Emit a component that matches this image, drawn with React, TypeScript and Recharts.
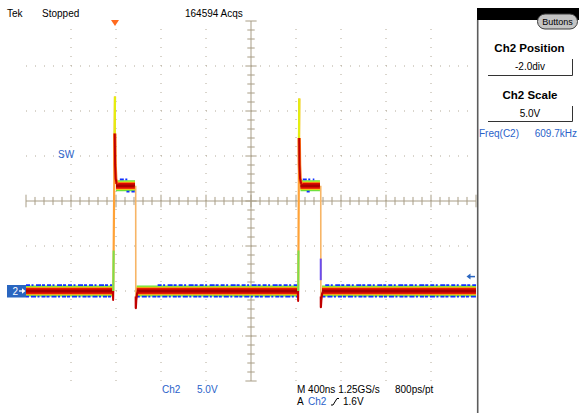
import React from 'react';
import { LineChart, Line, XAxis, YAxis, ReferenceLine } from 'recharts';

// ---------- screen scales (time in ns from screen left edge, volts) ----------
const T_DOMAIN: [number, number] = [0, 4000];
const V_DOMAIN: [number, number] = [-10, 30];
const GRID_TIMES = [400, 800, 1200, 1600, 2400, 2800, 3200, 3600];
const GRID_VOLTS = [-5, 0, 5, 15, 20, 25];
const CENTER_TIME = 2000;
const CENTER_VOLT = 10;
const MINOR_TIMES = Array.from({ length: 51 }, (_, i) => i * 80);
const MAJOR_TIMES = [0, 400, 800, 1200, 1600, 2000, 2400, 2800, 3200, 3600, 4000];
const MINOR_VOLTS = Array.from({ length: 41 }, (_, i) => -10 + i);
const MAJOR_VOLTS = [-10, -5, 0, 5, 10, 15, 20, 25, 30];

// ---------- waveform (Ch2, SW node) ----------
const bandTrace = [
  { t: 0, v: 0 }, { t: 771, v: 0 }, { t: 772, v: null },
  { t: 800, v: 11.7 }, { t: 969, v: 11.7 }, { t: 970, v: null },
  { t: 982, v: 0 }, { t: 2417, v: 0 }, { t: 2418, v: null },
  { t: 2440, v: 11.7 }, { t: 2613, v: 11.7 }, { t: 2614, v: null },
  { t: 2631, v: 0 }, { t: 4000, v: 0 },
];
const blueUpper = [
  { t: 0, v: 0.65 }, { t: 768, v: 0.65 }, { t: 769, v: null },
  { t: 834, v: 12.4 }, { t: 922, v: 12.4 }, { t: 923, v: null },
  { t: 1170, v: 0.65 }, { t: 2414, v: 0.65 }, { t: 2415, v: null },
  { t: 2460, v: 12.4 }, { t: 2563, v: 12.4 }, { t: 2564, v: null },
  { t: 2660, v: 0.65 }, { t: 4000, v: 0.65 },
];
const blueLower = [
  { t: 0, v: -0.62 }, { t: 768, v: -0.62 }, { t: 769, v: null },
  { t: 893, v: 11.05 }, { t: 967, v: 11.05 }, { t: 968, v: null },
  { t: 985, v: -0.62 }, { t: 2414, v: -0.62 }, { t: 2415, v: null },
  { t: 2495, v: 11.05 }, { t: 2524, v: 11.05 }, { t: 2525, v: null },
  { t: 2635, v: -0.62 }, { t: 4000, v: -0.62 },
];
const riseEdge = [
  { t: 776, v: 0 }, { t: 791, v: 21.6 }, { t: 792, v: null },
  { t: 2420, v: 0 }, { t: 2429, v: 21.4 },
];
const riseTop = [
  { t: 788, v: 17 }, { t: 791, v: 21.6 }, { t: 792, v: null },
  { t: 2426.5, v: 17 }, { t: 2429, v: 21.4 },
];
const riseBottom = [
  { t: 776, v: 0 }, { t: 779, v: 4.5 }, { t: 780, v: null },
  { t: 2420, v: 0 }, { t: 2422, v: 4.5 },
];
const preDip = [
  { t: 771, v: 0 }, { t: 774.5, v: -1 }, { t: 776, v: 0 }, { t: 777, v: null },
  { t: 2416, v: 0 }, { t: 2419, v: -1.1 }, { t: 2420, v: 0 },
];
const ringDecay = [
  { t: 789, v: 17.5 }, { t: 792, v: 14 }, { t: 797, v: 12.5 }, { t: 806, v: 11.9 },
  { t: 807, v: null },
  { t: 2428, v: 17 }, { t: 2431, v: 14 }, { t: 2436, v: 12.5 }, { t: 2446, v: 11.9 },
];
const fallEdge = [
  { t: 975, v: 11.7 }, { t: 976, v: -1.9 }, { t: 977, v: null },
  { t: 2620, v: 11.7 }, { t: 2621, v: -1.8 },
];
const undershoot = [
  { t: 975.5, v: -0.6 }, { t: 976, v: -1.9 }, { t: 980, v: -1.0 }, { t: 987, v: -0.3 }, { t: 997, v: 0 },
  { t: 998, v: null },
  { t: 2620.5, v: -0.6 }, { t: 2621, v: -1.8 }, { t: 2625, v: -1.0 }, { t: 2632, v: -0.3 }, { t: 2642, v: 0 },
];
const fallBlue = [
  { t: 2620, v: 1.2 }, { t: 2620, v: 3.6 },
];

// ---------- screen texts ----------
const HEADER = { brand: 'Tek', state: 'Stopped', acqs: '164594 Acqs' };
const CH_LABEL = 'SW';
const MENU = { posTitle: 'Ch2 Position', posValue: '-2.0div', scaleTitle: 'Ch2 Scale', scaleValue: '5.0V', button: 'Buttons' };
const MEAS = { name: 'Freq(C2)', value: '609.7kHz' };
const FOOTER = { ch: 'Ch2', scale: '5.0V', timebase: 'M 400ns 1.25GS/s', res: '800ps/pt', trigA: 'A', trigCh: 'Ch2', trigLevel: '1.6V' };

const GRAT = '#a89d86';
const DOT = '#b3aa98';
const BLUE_TXT = '#2a62c9';
const FONT = '"Liberation Sans", Arial, sans-serif';

const common = {
  xAxisId: 'xb',
  yAxisId: 'yl',
  dataKey: 'v',
  type: 'linear' as const,
  dot: false,
  activeDot: false,
  isAnimationActive: false,
  connectNulls: false,
  strokeLinecap: 'butt' as const,
  strokeLinejoin: 'round' as const,
};

export default function App() {
  return (
    <div style={{ position: 'absolute', left: 0, top: 0, width: 579, height: 413, background: '#fff', fontFamily: FONT }}>
      <LineChart width={579} height={413} margin={{ top: 21, right: 103, bottom: 32, left: 26 }}>
        <XAxis xAxisId="xb" dataKey="t" type="number" domain={T_DOMAIN} allowDataOverflow orientation="bottom" mirror height={0}
          ticks={MINOR_TIMES} interval={0} tick={false} tickSize={4} tickLine={{ stroke: GRAT }} axisLine={{ stroke: GRAT, strokeWidth: 1.5 }} />
        <XAxis xAxisId="xbm" dataKey="t" type="number" domain={T_DOMAIN} allowDataOverflow orientation="bottom" mirror height={0}
          ticks={MAJOR_TIMES} interval={0} tick={false} tickSize={8} tickLine={{ stroke: GRAT }} axisLine={false} />
        <XAxis xAxisId="xt" dataKey="t" type="number" domain={T_DOMAIN} allowDataOverflow orientation="top" mirror height={0}
          ticks={MINOR_TIMES} interval={0} tick={false} tickSize={4} tickLine={{ stroke: GRAT }} axisLine={{ stroke: GRAT, strokeWidth: 1.5 }} />
        <XAxis xAxisId="xtm" dataKey="t" type="number" domain={T_DOMAIN} allowDataOverflow orientation="top" mirror height={0}
          ticks={MAJOR_TIMES} interval={0} tick={false} tickSize={6} tickLine={{ stroke: GRAT }} axisLine={false} />
        <YAxis yAxisId="yl" type="number" domain={V_DOMAIN} allowDataOverflow orientation="left" mirror width={0}
          ticks={MINOR_VOLTS} interval={0} tick={false} tickSize={4} tickLine={{ stroke: GRAT }} axisLine={{ stroke: GRAT, strokeWidth: 1.5 }} />
        <YAxis yAxisId="yr" type="number" domain={V_DOMAIN} allowDataOverflow orientation="right" mirror width={0}
          ticks={MINOR_VOLTS} interval={0} tick={false} tickSize={4} tickLine={{ stroke: GRAT }} axisLine={{ stroke: GRAT, strokeWidth: 1.5 }} />
        <YAxis yAxisId="yrm" type="number" domain={V_DOMAIN} allowDataOverflow orientation="right" mirror width={0}
          ticks={MAJOR_VOLTS} interval={0} tick={false} tickSize={8} tickLine={{ stroke: GRAT }} axisLine={false} />

        {GRID_TIMES.map((t) => (
          <ReferenceLine key={'gt' + t} xAxisId="xb" yAxisId="yl" x={t} stroke={DOT} strokeDasharray="1 8" />
        ))}
        {GRID_VOLTS.map((v) => (
          <ReferenceLine key={'gv' + v} xAxisId="xb" yAxisId="yl" y={v} stroke={DOT} strokeDasharray="1 8" />
        ))}
        <ReferenceLine xAxisId="xb" yAxisId="yl" x={CENTER_TIME} stroke={GRAT} />
        <ReferenceLine xAxisId="xb" yAxisId="yl" y={CENTER_VOLT} stroke={GRAT} />
        {MINOR_TIMES.map((t) => {
          const h = MAJOR_TIMES.includes(t) ? 0.7 : 0.45;
          return (
            <ReferenceLine key={'ct' + t} xAxisId="xb" yAxisId="yl" stroke={GRAT}
              segment={[{ x: t, y: CENTER_VOLT - h }, { x: t, y: CENTER_VOLT + h }]} />
          );
        })}
        {MINOR_VOLTS.map((v) => {
          const w = MAJOR_VOLTS.includes(v) ? 50 : 33;
          return (
            <ReferenceLine key={'cv' + v} xAxisId="xb" yAxisId="yl" stroke={GRAT}
              segment={[{ x: CENTER_TIME - w, y: v }, { x: CENTER_TIME + w, y: v }]} />
          );
        })}

        {/* persistence band of the trace */}
        <Line {...common} data={bandTrace} stroke="#6fe23c" strokeWidth={11} />
        <Line {...common} data={bandTrace} stroke="#e6ee1c" strokeWidth={8.5} />
        <Line {...common} data={bandTrace} stroke="#ff5a12" strokeWidth={7} />
        <Line {...common} data={bandTrace} stroke="#dc0a00" strokeWidth={5.5} />
        <Line {...common} data={bandTrace} stroke="#a80000" strokeWidth={2.5} />
        <Line {...common} data={blueUpper} stroke="#1030ff" strokeWidth={1.8} strokeDasharray="4 1.5 2 2.5 5 1 3 2" />
        <Line {...common} data={blueLower} stroke="#1030ff" strokeWidth={1.8} strokeDasharray="3 2 5 1.5 2 2 4 1" />

        {/* edges */}
        <Line {...common} data={riseEdge} stroke="#ffa236" strokeWidth={2.2} />
        <Line {...common} data={riseTop} stroke="#e4ee10" strokeWidth={2.2} />
        <Line {...common} data={riseBottom} stroke="#7ae04a" strokeWidth={2} />
        <Line {...common} data={preDip} stroke="#c80000" strokeWidth={2} />
        <Line {...common} data={ringDecay} stroke="#ff7a1a" strokeWidth={3.5} />
        <Line {...common} data={ringDecay} stroke="#c00000" strokeWidth={2} />
        <Line {...common} data={fallEdge} stroke="#f7b566" strokeWidth={1.6} />
        <Line {...common} data={undershoot} stroke="#c00000" strokeWidth={2.2} />
        <Line {...common} data={fallBlue} stroke="#6a4cf0" strokeWidth={2} />
      </LineChart>

      <svg width={579} height={413} style={{ position: 'absolute', left: 0, top: 0, pointerEvents: 'none' }} fontFamily={FONT}>
        {/* header */}
        <text x={7} y={17} fontSize={10} fill="#000">{HEADER.brand}</text>
        <text x={42} y={17} fontSize={10} fill="#000">{HEADER.state}</text>
        <text x={185} y={17} fontSize={10} fill="#000">{HEADER.acqs}</text>
        {/* trigger position marker */}
        <polygon points="111,20 119,20 115,26" fill="#ff6a1e" />

        {/* channel label and ground marker */}
        <text x={58} y={158} fontSize={10} fill={BLUE_TXT}>{CH_LABEL}</text>
        <rect x={7} y={285} width={19} height={12.5} fill="#2a66c0" />
        <text x={12.5} y={295} fontSize={10} fill="#fff">2</text>
        <line x1={19} y1={291} x2={24} y2={291} stroke="#fff" strokeWidth={1.3} />
        <polygon points="25.5,291 22,288.3 22,293.7" fill="#fff" />
        {/* trigger level marker */}
        <line x1={469} y1={276.6} x2={475} y2={276.6} stroke="#2a66c0" strokeWidth={1.5} />
        <polygon points="466.5,276.6 470.5,273.6 470.5,279.6" fill="#2a66c0" />

        {/* right panel */}
        <rect x={477} y={8} width={102} height={12} fill="#000" />
        <line x1={477.7} y1={20} x2={477.7} y2={413} stroke="#5c5c5c" strokeWidth={1.6} />
        <rect x={537.5} y={14} width={40} height={15} rx={7.5} fill="#c4c4c4" stroke="#3a3a3a" strokeWidth={1} />
        <text x={557.5} y={25} fontSize={9} textAnchor="middle" fill="#000">{MENU.button}</text>
        <text x={529.5} y={52} fontSize={11.5} fontWeight="bold" textAnchor="middle" fill="#000">{MENU.posTitle}</text>
        <text x={530} y={70} fontSize={10} textAnchor="middle" fill="#000">{MENU.posValue}</text>
        <polyline points="488,75.5 572.5,75.5 572.5,59" fill="none" stroke="#333" strokeWidth={1} />
        <text x={530} y={99} fontSize={11.5} fontWeight="bold" textAnchor="middle" fill="#000">{MENU.scaleTitle}</text>
        <text x={530} y={117} fontSize={10} textAnchor="middle" fill="#000">{MENU.scaleValue}</text>
        <polyline points="488,121.5 572.5,121.5 572.5,106" fill="none" stroke="#333" strokeWidth={1} />
        <text x={479} y={137} fontSize={10} fill={BLUE_TXT}>{MEAS.name}</text>
        <text x={577} y={137} fontSize={10} textAnchor="end" fill={BLUE_TXT}>{MEAS.value}</text>

        {/* footer */}
        <text x={162} y={393} fontSize={10} fill={BLUE_TXT}>{FOOTER.ch}</text>
        <text x={197} y={393} fontSize={10} fill={BLUE_TXT}>{FOOTER.scale}</text>
        <text x={297} y={393} fontSize={10} fill="#000">{FOOTER.timebase}</text>
        <text x={395} y={393} fontSize={10} fill="#000">{FOOTER.res}</text>
        <text x={297} y={405} fontSize={10} fill="#000">{FOOTER.trigA}</text>
        <text x={308} y={405} fontSize={10} fill={BLUE_TXT}>{FOOTER.trigCh}</text>
        <polyline points="331,405 333,405 337,398.5 339,398.5" fill="none" stroke="#000" strokeWidth={1} />
        <text x={343} y={405} fontSize={10} fill="#000">{FOOTER.trigLevel}</text>
      </svg>
    </div>
  );
}
